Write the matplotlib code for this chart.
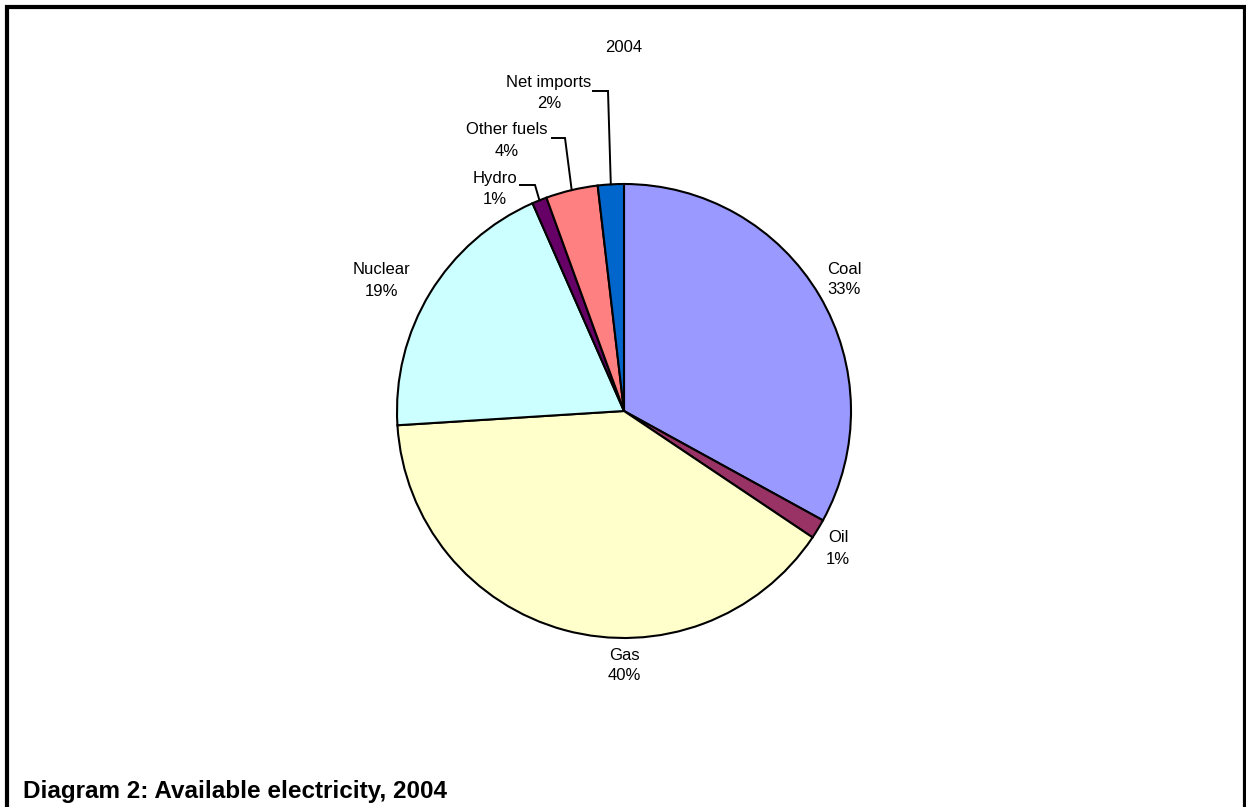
import numpy as np
import matplotlib.pyplot as plt

plt.rcParams['font.family'] = ['Liberation Sans', 'DejaVu Sans']

# Available electricity by source, 2004 (per cent)
sources = ['Coal', 'Oil', 'Gas', 'Nuclear', 'Hydro', 'Other fuels', 'Net imports']
shares = [33.0, 1.4, 39.6, 19.4, 1.05, 3.7, 1.85]
colors = ['#9999FF', '#993366', '#FFFFCC', '#CCFFFF', '#660066', '#FF8080', '#0066CC']

W, H = 1246, 807
fig = plt.figure(figsize=(W / 100, H / 100), dpi=100)
ax = fig.add_axes([0, 0, 1, 1])

# pixel layout (y measured from the top of the figure)
cx, cy, r = 624, 411, 227
center = (cx, H - cy)

wedges, _ = ax.pie(shares, colors=colors, startangle=90, counterclock=False,
                   center=center, radius=r, frame=True,
                   wedgeprops=dict(edgecolor='black', linewidth=1.5))
ax.set_xlim(0, W)
ax.set_ylim(0, H)
ax.axis('off')

# label centres (x, y of the name line)
label_pos = {
    'Coal': (844, 269),
    'Oil': (838, 538),
    'Gas': (624, 655),
    'Nuclear': (382, 270),
    'Hydro': (495, 178),
    'Other fuels': (507, 130),
    'Net imports': (549, 82),
}
# small slices get an elbow leader: (x start, x corner, y of horizontal run)
leaders = {
    'Hydro': (520, 535, 185),
    'Other fuels': (552, 565, 138),
    'Net imports': (593, 608, 91),
}

for name, val, w in zip(sources, shares, wedges):
    lx, ly = label_pos[name]
    ax.text(lx, H - ly, name, ha='center', va='center', fontsize=12)
    ax.text(lx, H - ly - 21, f'{val:.0f}%', ha='center', va='center', fontsize=12)
    if name in leaders:
        x0, x1, yl = leaders[name]
        mid = np.deg2rad((w.theta1 + w.theta2) / 2)
        px = center[0] + r * np.cos(mid)
        py = center[1] + r * np.sin(mid)
        ax.plot([x0, x1, px], [H - yl, H - yl, py], color='black', lw=1.4,
                solid_joinstyle='miter')

ax.text(cx, H - 47, '2004', ha='center', va='center', fontsize=12)
ax.text(23, H - 798, 'Diagram 2: Available electricity, 2004', ha='left',
        va='baseline', fontsize=17.5, fontweight='bold')

# outer frame (open at the bottom)
ax.plot([6.5, 6.5, 1245, 1245], [0, H - 6.5, H - 6.5, 0], color='black', lw=3,
        solid_joinstyle='miter', clip_on=False)

fig.savefig('out.png', dpi=100)
